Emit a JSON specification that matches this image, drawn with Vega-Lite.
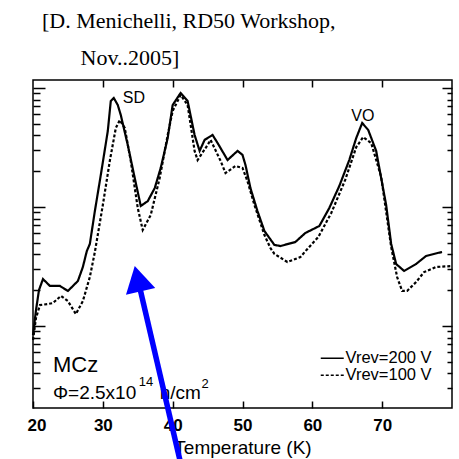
{
  "$schema": "https://vega.github.io/schema/vega-lite/v6.json",
  "autosize": {"type": "none"},
  "padding": {"left": 33, "top": 80, "right": 7, "bottom": 51},
  "width": 419,
  "height": 328,
  "background": "white",
  "title": {
    "text": ["[D. Menichelli, RD50 Workshop,", "\u200b\u00a0\u00a0\u00a0\u00a0\u00a0\u00a0\u00a0Nov..2005]"],
    "anchor": "start",
    "frame": "group",
    "font": "Liberation Serif",
    "fontSize": 22,
    "fontWeight": "normal",
    "color": "black",
    "lineHeight": 37,
    "dx": 9,
    "offset": 9
  },
  "datasets": {
    "curves": [
      {"T": 20.0, "v": 0.84, "series": "Vrev=200 V"},
      {"T": 20.43, "v": 1.36, "series": "Vrev=200 V"},
      {"T": 20.86, "v": 2.01, "series": "Vrev=200 V"},
      {"T": 21.43, "v": 2.48, "series": "Vrev=200 V"},
      {"T": 22.43, "v": 2.17, "series": "Vrev=200 V"},
      {"T": 23.86, "v": 2.17, "series": "Vrev=200 V"},
      {"T": 25.0, "v": 1.97, "series": "Vrev=200 V"},
      {"T": 26.43, "v": 2.39, "series": "Vrev=200 V"},
      {"T": 27.14, "v": 3.13, "series": "Vrev=200 V"},
      {"T": 27.71, "v": 4.27, "series": "Vrev=200 V"},
      {"T": 28.14, "v": 4.89, "series": "Vrev=200 V"},
      {"T": 28.86, "v": 9.25, "series": "Vrev=200 V"},
      {"T": 29.71, "v": 18.6, "series": "Vrev=200 V"},
      {"T": 30.71, "v": 43.5, "series": "Vrev=200 V"},
      {"T": 31.14, "v": 77.8, "series": "Vrev=200 V"},
      {"T": 31.57, "v": 82.4, "series": "Vrev=200 V"},
      {"T": 32.14, "v": 71.9, "series": "Vrev=200 V"},
      {"T": 32.57, "v": 59.3, "series": "Vrev=200 V"},
      {"T": 33.57, "v": 33.2, "series": "Vrev=200 V"},
      {"T": 34.57, "v": 17.5, "series": "Vrev=200 V"},
      {"T": 35.43, "v": 10.2, "series": "Vrev=200 V"},
      {"T": 36.43, "v": 11.2, "series": "Vrev=200 V"},
      {"T": 37.43, "v": 14.4, "series": "Vrev=200 V"},
      {"T": 38.29, "v": 21.3, "series": "Vrev=200 V"},
      {"T": 39.29, "v": 38.0, "series": "Vrev=200 V"},
      {"T": 40.0, "v": 71.9, "series": "Vrev=200 V"},
      {"T": 41.14, "v": 90.8, "series": "Vrev=200 V"},
      {"T": 42.14, "v": 77.8, "series": "Vrev=200 V"},
      {"T": 43.14, "v": 40.3, "series": "Vrev=200 V"},
      {"T": 43.86, "v": 29.6, "series": "Vrev=200 V"},
      {"T": 44.57, "v": 36.6, "series": "Vrev=200 V"},
      {"T": 45.71, "v": 40.3, "series": "Vrev=200 V"},
      {"T": 46.43, "v": 34.5, "series": "Vrev=200 V"},
      {"T": 47.86, "v": 24.8, "series": "Vrev=200 V"},
      {"T": 49.29, "v": 29.6, "series": "Vrev=200 V"},
      {"T": 50.0, "v": 27.4, "series": "Vrev=200 V"},
      {"T": 50.43, "v": 22.5, "series": "Vrev=200 V"},
      {"T": 51.14, "v": 14.4, "series": "Vrev=200 V"},
      {"T": 52.14, "v": 9.25, "series": "Vrev=200 V"},
      {"T": 53.14, "v": 6.28, "series": "Vrev=200 V"},
      {"T": 54.57, "v": 4.8, "series": "Vrev=200 V"},
      {"T": 55.43, "v": 4.7, "series": "Vrev=200 V"},
      {"T": 57.57, "v": 5.08, "series": "Vrev=200 V"},
      {"T": 59.0, "v": 6.05, "series": "Vrev=200 V"},
      {"T": 61.0, "v": 6.92, "series": "Vrev=200 V"},
      {"T": 62.43, "v": 9.81, "series": "Vrev=200 V"},
      {"T": 63.86, "v": 15.0, "series": "Vrev=200 V"},
      {"T": 65.29, "v": 24.8, "series": "Vrev=200 V"},
      {"T": 66.29, "v": 38.0, "series": "Vrev=200 V"},
      {"T": 67.14, "v": 50.8, "series": "Vrev=200 V"},
      {"T": 68.0, "v": 44.4, "series": "Vrev=200 V"},
      {"T": 69.14, "v": 29.6, "series": "Vrev=200 V"},
      {"T": 70.57, "v": 10.4, "series": "Vrev=200 V"},
      {"T": 71.29, "v": 4.89, "series": "Vrev=200 V"},
      {"T": 72.0, "v": 3.32, "series": "Vrev=200 V"},
      {"T": 73.14, "v": 2.9, "series": "Vrev=200 V"},
      {"T": 74.86, "v": 3.32, "series": "Vrev=200 V"},
      {"T": 76.29, "v": 3.88, "series": "Vrev=200 V"},
      {"T": 78.57, "v": 4.19, "series": "Vrev=200 V"},
      {"T": 20.0, "v": 0.763, "series": "Vrev=100 V"},
      {"T": 20.43, "v": 1.17, "series": "Vrev=100 V"},
      {"T": 21.0, "v": 1.5, "series": "Vrev=100 V"},
      {"T": 22.14, "v": 1.53, "series": "Vrev=100 V"},
      {"T": 22.86, "v": 1.56, "series": "Vrev=100 V"},
      {"T": 24.0, "v": 1.79, "series": "Vrev=100 V"},
      {"T": 25.0, "v": 1.62, "series": "Vrev=100 V"},
      {"T": 26.14, "v": 1.26, "series": "Vrev=100 V"},
      {"T": 27.14, "v": 1.62, "series": "Vrev=100 V"},
      {"T": 28.14, "v": 2.58, "series": "Vrev=100 V"},
      {"T": 28.86, "v": 4.19, "series": "Vrev=100 V"},
      {"T": 30.0, "v": 10.4, "series": "Vrev=100 V"},
      {"T": 31.0, "v": 24.4, "series": "Vrev=100 V"},
      {"T": 31.86, "v": 46.1, "series": "Vrev=100 V"},
      {"T": 32.43, "v": 53.8, "series": "Vrev=100 V"},
      {"T": 33.14, "v": 46.1, "series": "Vrev=100 V"},
      {"T": 34.0, "v": 24.4, "series": "Vrev=100 V"},
      {"T": 35.0, "v": 9.81, "series": "Vrev=100 V"},
      {"T": 35.71, "v": 6.41, "series": "Vrev=100 V"},
      {"T": 36.86, "v": 8.57, "series": "Vrev=100 V"},
      {"T": 38.14, "v": 17.5, "series": "Vrev=100 V"},
      {"T": 39.29, "v": 40.3, "series": "Vrev=100 V"},
      {"T": 40.0, "v": 64.1, "series": "Vrev=100 V"},
      {"T": 41.14, "v": 87.3, "series": "Vrev=100 V"},
      {"T": 42.14, "v": 71.9, "series": "Vrev=100 V"},
      {"T": 43.14, "v": 29.6, "series": "Vrev=100 V"},
      {"T": 43.57, "v": 24.8, "series": "Vrev=100 V"},
      {"T": 45.0, "v": 33.2, "series": "Vrev=100 V"},
      {"T": 45.43, "v": 36.6, "series": "Vrev=100 V"},
      {"T": 46.86, "v": 24.4, "series": "Vrev=100 V"},
      {"T": 47.57, "v": 19.3, "series": "Vrev=100 V"},
      {"T": 49.0, "v": 22.1, "series": "Vrev=100 V"},
      {"T": 50.0, "v": 21.3, "series": "Vrev=100 V"},
      {"T": 50.71, "v": 16.5, "series": "Vrev=100 V"},
      {"T": 51.71, "v": 10.4, "series": "Vrev=100 V"},
      {"T": 53.14, "v": 5.82, "series": "Vrev=100 V"},
      {"T": 54.0, "v": 4.52, "series": "Vrev=100 V"},
      {"T": 54.57, "v": 4.03, "series": "Vrev=100 V"},
      {"T": 56.43, "v": 3.45, "series": "Vrev=100 V"},
      {"T": 58.29, "v": 3.8, "series": "Vrev=100 V"},
      {"T": 59.29, "v": 4.44, "series": "Vrev=100 V"},
      {"T": 60.86, "v": 5.6, "series": "Vrev=100 V"},
      {"T": 62.71, "v": 8.91, "series": "Vrev=100 V"},
      {"T": 64.71, "v": 16.9, "series": "Vrev=100 V"},
      {"T": 66.29, "v": 31.9, "series": "Vrev=100 V"},
      {"T": 67.29, "v": 38.7, "series": "Vrev=100 V"},
      {"T": 68.43, "v": 34.5, "series": "Vrev=100 V"},
      {"T": 69.86, "v": 17.9, "series": "Vrev=100 V"},
      {"T": 71.29, "v": 4.61, "series": "Vrev=100 V"},
      {"T": 72.14, "v": 2.58, "series": "Vrev=100 V"},
      {"T": 72.86, "v": 1.97, "series": "Vrev=100 V"},
      {"T": 73.57, "v": 1.97, "series": "Vrev=100 V"},
      {"T": 74.86, "v": 2.34, "series": "Vrev=100 V"},
      {"T": 76.0, "v": 2.84, "series": "Vrev=100 V"},
      {"T": 77.71, "v": 3.13, "series": "Vrev=100 V"},
      {"T": 79.86, "v": 3.19, "series": "Vrev=100 V"}
    ],
    "peaks": [
      {"label": "SD", "T": 32.857, "v": 74.8},
      {"label": "VO", "T": 65.571, "v": 52.8}
    ],
    "sample": [
      {"label": "MCz", "T": 22.857, "v": 0.411}
    ],
    "fluence": [
      {"label": "Φ=2.5x10", "T": 22.857, "v": 0.2435},
      {"label": "n/cm", "T": 38.143, "v": 0.2435}
    ],
    "sups": [
      {"label": "14", "T": 35.143, "v": 0.313},
      {"label": "2", "T": 44.143, "v": 0.301}
    ],
    "shaft": [
      {"T": 34.99, "v": 2.5},
      {"T": 41.37, "v": 0.0616}
    ],
    "head": [
      {"T": 34.99, "v": 2.5}
    ]
  },
  "layer": [
    {
      "data": {"name": "curves"},
      "mark": {"type": "line", "color": "black", "strokeWidth": 2.2, "clip": false},
      "encoding": {
        "x": {"field": "T", "type": "quantitative",
          "scale": {"domain": [20, 80], "nice": false, "zero": false},
          "axis": {"orient": "bottom", "values": [20, 30, 40, 50, 60, 70], "tickSize": -7, "labelPadding": 16, "labelFontSize": 17, "labelFontWeight": "bold", "labelFlush": true, "labelFlushOffset": 6, "title": "Temperature (K)", "titleFontSize": 19, "titlePadding": 5}},
        "y": {"field": "v", "type": "quantitative",
          "scale": {"type": "log", "domain": [0.2047, 116.7], "nice": false},
          "axis": {"orient": "left", "values": [1, 10, 100], "tickSize": -12, "labels": false, "title": null}},
        "strokeDash": {"field": "series", "type": "nominal",
          "scale": {"domain": ["Vrev=200 V", "Vrev=100 V"], "range": [[1, 0], [3, 2]]},
          "legend": {"title": null, "orient": "none", "legendX": 291, "legendY": 270, "symbolType": "M-2,0H2", "symbolSize": 132, "symbolStrokeWidth": 1.5, "symbolStrokeColor": "black", "symbolFillColor": "transparent", "labelFont": "Liberation Sans", "labelFontSize": 16.5, "labelColor": "black", "labelOffset": 5, "rowPadding": 0}}
      }
    },
    {
      "data": {"name": "peaks"},
      "mark": {"type": "text", "align": "left", "baseline": "alphabetic", "font": "Liberation Sans", "fontSize": 16, "color": "black"},
      "encoding": {
        "x": {"field": "T", "type": "quantitative", "scale": {"domain": [20, 80], "nice": false, "zero": false},
          "axis": {"orient": "top", "values": [30, 40, 50, 60, 70], "tickSize": -7, "labels": false, "title": null}},
        "y": {"field": "v", "type": "quantitative", "scale": {"type": "log", "domain": [0.2047, 116.7], "nice": false},
          "axis": {"orient": "right", "values": [1, 10, 100], "tickSize": -10, "labels": false, "title": null}},
        "text": {"field": "label"}
      }
    },
    {
      "data": {"name": "sample"},
      "mark": {"type": "text", "align": "left", "baseline": "alphabetic", "font": "Liberation Sans", "fontSize": 22, "color": "black"},
      "encoding": {
        "x": {"field": "T", "type": "quantitative", "axis": null},
        "y": {"field": "v", "type": "quantitative",
          "axis": {"orient": "left", "values": [0.3, 0.4, 0.5, 0.6, 0.7, 0.8, 0.9, 2, 3, 4, 5, 6, 7, 8, 9, 20, 30, 40, 50, 60, 70, 80, 90], "tickSize": -7, "labels": false, "title": null}},
        "text": {"field": "label"}
      }
    },
    {
      "data": {"name": "fluence"},
      "mark": {"type": "text", "align": "left", "baseline": "alphabetic", "font": "Liberation Sans", "fontSize": 19, "color": "black"},
      "encoding": {
        "x": {"field": "T", "type": "quantitative", "axis": null},
        "y": {"field": "v", "type": "quantitative",
          "axis": {"orient": "right", "values": [0.3, 0.4, 0.5, 0.6, 0.7, 0.8, 0.9, 2, 3, 4, 5, 6, 7, 8, 9, 20, 30, 40, 50, 60, 70, 80, 90], "tickSize": -5, "labels": false, "title": null}},
        "text": {"field": "label"}
      }
    },
    {
      "data": {"name": "sups"},
      "mark": {"type": "text", "align": "left", "baseline": "alphabetic", "font": "Liberation Sans", "fontSize": 13, "color": "black"},
      "encoding": {
        "x": {"field": "T", "type": "quantitative", "axis": null},
        "y": {"field": "v", "type": "quantitative", "axis": null},
        "text": {"field": "label"}
      }
    },
    {
      "data": {"name": "shaft"},
      "mark": {"type": "line", "color": "#0000ff", "strokeWidth": 5.5, "clip": false},
      "encoding": {
        "x": {"field": "T", "type": "quantitative", "axis": null},
        "y": {"field": "v", "type": "quantitative", "axis": null}
      }
    },
    {
      "data": {"name": "head"},
      "mark": {"type": "point", "shape": "triangle-up", "filled": true, "color": "#0000ff", "opacity": 1, "size": 900, "angle": 347, "clip": false},
      "encoding": {
        "x": {"field": "T", "type": "quantitative", "axis": null},
        "y": {"field": "v", "type": "quantitative", "axis": null}
      }
    }
  ],
  "resolve": {"axis": {"x": "independent", "y": "independent"}},
  "config": {
    "view": {"stroke": "black", "strokeWidth": 1.5},
    "axis": {"grid": false, "domain": false, "tickColor": "black", "tickWidth": 1.5, "labelColor": "black", "labelFont": "Liberation Sans", "titleFont": "Liberation Sans", "titleColor": "black", "titleFontWeight": "normal"}
  }
}
